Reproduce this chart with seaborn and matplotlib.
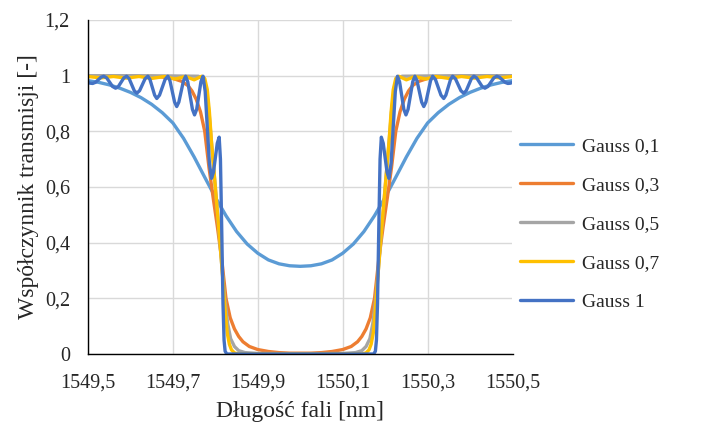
import matplotlib
matplotlib.use("Agg")
import matplotlib.pyplot as plt
import seaborn as sns
import pandas as pd

# ---------------- data ----------------
series_names = ["Gauss 0,1", "Gauss 0,3", "Gauss 0,5", "Gauss 0,7", "Gauss 1"]
series_colors = ["#5B9BD5", "#ED7D31", "#A5A5A5", "#FFC000", "#4472C4"]

g01_wl = [1549.500, 1549.525, 1549.550, 1549.575, 1549.600, 1549.625, 1549.650,
          1549.675, 1549.700, 1549.725, 1549.750, 1549.775, 1549.800, 1549.825,
          1549.850, 1549.875, 1549.900, 1549.925, 1549.950, 1549.975, 1550.000,
          1550.025, 1550.050, 1550.075, 1550.100, 1550.125, 1550.150, 1550.175,
          1550.200, 1550.225, 1550.250, 1550.275, 1550.300, 1550.325, 1550.350,
          1550.375, 1550.400, 1550.425, 1550.450, 1550.475, 1550.500]
g01_t = [0.982, 0.976, 0.967, 0.955, 0.940, 0.921, 0.897, 0.867, 0.830, 0.775,
         0.708, 0.635, 0.563, 0.497, 0.440, 0.395, 0.362, 0.338, 0.324, 0.317,
         0.315, 0.317, 0.324, 0.338, 0.362, 0.395, 0.440, 0.497, 0.563, 0.635,
         0.708, 0.775, 0.830, 0.867, 0.897, 0.921, 0.940, 0.955, 0.967, 0.976,
         0.982]

g03_wl = [1549.500, 1549.550, 1549.600, 1549.650, 1549.675, 1549.700, 1549.720,
          1549.735, 1549.745, 1549.755, 1549.765, 1549.775, 1549.785, 1549.795,
          1549.805, 1549.815, 1549.825, 1549.835, 1549.845, 1549.855, 1549.865,
          1549.880, 1549.900, 1549.925, 1549.950, 1549.975, 1550.000,
          1550.025, 1550.050, 1550.075, 1550.100, 1550.120, 1550.135, 1550.145,
          1550.155, 1550.165, 1550.175, 1550.185, 1550.195, 1550.205, 1550.215,
          1550.225, 1550.235, 1550.245, 1550.255, 1550.265, 1550.280, 1550.300,
          1550.325, 1550.350, 1550.400, 1550.450, 1550.500]
g03_t = [1.000, 1.000, 0.999, 0.997, 0.995, 0.990, 0.980, 0.965, 0.945, 0.915,
         0.870, 0.800, 0.670, 0.560, 0.455, 0.340, 0.200, 0.130, 0.090, 0.063,
         0.044, 0.027, 0.016, 0.009, 0.005, 0.003, 0.003,
         0.003, 0.005, 0.009, 0.016, 0.027, 0.044, 0.063, 0.090, 0.130, 0.200,
         0.340, 0.455, 0.560, 0.670, 0.800, 0.870, 0.915, 0.945, 0.965, 0.980,
         0.990, 0.995, 0.997, 0.999, 1.000, 1.000]

g05_wl = [1549.500, 1549.600, 1549.700, 1549.760, 1549.770, 1549.778, 1549.785,
          1549.792, 1549.800, 1549.808, 1549.815, 1549.822, 1549.829, 1549.836,
          1549.845, 1549.855, 1549.870, 1549.900, 1550.000,
          1550.100, 1550.130, 1550.145, 1550.155, 1550.164, 1550.171, 1550.178,
          1550.185, 1550.192, 1550.200, 1550.208, 1550.215, 1550.222, 1550.230,
          1550.240, 1550.300, 1550.400, 1550.500]
g05_t = [1.000, 1.000, 0.999, 0.998, 0.990, 0.960, 0.870, 0.740, 0.600, 0.450,
         0.320, 0.200, 0.110, 0.055, 0.027, 0.012, 0.005, 0.002, 0.001,
         0.002, 0.005, 0.012, 0.027, 0.055, 0.110, 0.200, 0.320, 0.450, 0.600,
         0.740, 0.870, 0.960, 0.990, 0.998, 0.999, 1.000, 1.000]

g07_wl = [1549.500, 1549.530, 1549.560, 1549.590, 1549.620, 1549.650, 1549.680,
          1549.705, 1549.730, 1549.750, 1549.768, 1549.775, 1549.781, 1549.786,
          1549.791, 1549.796, 1549.801, 1549.806, 1549.811, 1549.816, 1549.820,
          1549.824, 1549.828, 1549.833, 1549.838, 1549.845, 1549.855, 1550.000,
          1550.145, 1550.155, 1550.162, 1550.167, 1550.172, 1550.176, 1550.180,
          1550.184, 1550.189, 1550.194, 1550.199, 1550.204, 1550.209, 1550.214,
          1550.219, 1550.225, 1550.232, 1550.250, 1550.270, 1550.295, 1550.320,
          1550.350, 1550.380, 1550.410, 1550.440, 1550.470, 1550.500]
g07_t = [0.997, 0.992, 0.997, 0.991, 0.997, 0.990, 0.997, 0.988, 0.997, 0.985,
         0.998, 0.990, 0.950, 0.870, 0.760, 0.670, 0.580, 0.490, 0.400, 0.300,
         0.220, 0.140, 0.075, 0.035, 0.015, 0.004, 0.000, 0.000,
         0.000, 0.004, 0.015, 0.035, 0.075, 0.140, 0.220, 0.300, 0.400, 0.490,
         0.580, 0.670, 0.760, 0.870, 0.950, 0.990, 0.998, 0.985, 0.997, 0.988,
         0.997, 0.990, 0.997, 0.991, 0.997, 0.992, 0.997]

g1_wl = [1549.500, 1549.505, 1549.511, 1549.5175, 1549.524, 1549.5305, 1549.537,
         1549.544, 1549.551, 1549.558, 1549.565, 1549.5715, 1549.578, 1549.5845,
         1549.591, 1549.597, 1549.603, 1549.609, 1549.615, 1549.6215, 1549.628,
         1549.6345, 1549.641, 1549.646, 1549.6515, 1549.657, 1549.662, 1549.6685,
         1549.675, 1549.6815, 1549.688, 1549.693, 1549.6985, 1549.704, 1549.709,
         1549.714, 1549.7195, 1549.725, 1549.730, 1549.735, 1549.7405, 1549.746,
         1549.751, 1549.756, 1549.761, 1549.766, 1549.771, 1549.776, 1549.781,
         1549.786, 1549.791, 1549.7955, 1549.800, 1549.8045, 1549.809, 1549.812,
         1549.815, 1549.818, 1549.8205, 1549.823, 1549.827, 1550.000,
         1550.173, 1550.177, 1550.1795, 1550.182, 1550.185, 1550.188, 1550.191,
         1550.1955, 1550.200, 1550.2045, 1550.209, 1550.214, 1550.219, 1550.224,
         1550.229, 1550.234, 1550.239, 1550.244, 1550.249, 1550.254, 1550.2595,
         1550.265, 1550.270, 1550.275, 1550.2805, 1550.286, 1550.291, 1550.296,
         1550.3015, 1550.307, 1550.312, 1550.3185, 1550.325, 1550.3315, 1550.338,
         1550.343, 1550.3485, 1550.354, 1550.359, 1550.3655, 1550.372, 1550.3785,
         1550.385, 1550.391, 1550.397, 1550.403, 1550.409, 1550.4155, 1550.422,
         1550.4285, 1550.435, 1550.442, 1550.449, 1550.456, 1550.463, 1550.4695,
         1550.476, 1550.4825, 1550.489, 1550.495, 1550.500]
g1_t = [0.976, 0.973, 0.972, 0.976, 0.985, 0.994, 0.998,
        0.992, 0.9765, 0.961, 0.955, 0.961, 0.9765, 0.992,
        0.998, 0.989, 0.9675, 0.946, 0.937, 0.946, 0.9675,
        0.989, 0.998, 0.986, 0.958, 0.930, 0.918, 0.930,
        0.958, 0.986, 0.998, 0.982, 0.9435, 0.905, 0.889,
        0.905, 0.9435, 0.982, 0.998, 0.978, 0.9285, 0.879,
        0.859, 0.879, 0.9285, 0.978, 0.998, 0.944, 0.8145,
        0.685, 0.631, 0.653, 0.705, 0.757, 0.779, 0.700,
        0.450, 0.180, 0.050, 0.010, 0.000, 0.000,
        0.000, 0.010, 0.050, 0.180, 0.450, 0.700, 0.779,
        0.757, 0.705, 0.653, 0.631, 0.685, 0.8145, 0.944,
        0.998, 0.978, 0.9285, 0.879, 0.859, 0.879, 0.9285,
        0.978, 0.998, 0.982, 0.9435, 0.905, 0.889, 0.905,
        0.9435, 0.982, 0.998, 0.986, 0.958, 0.930, 0.918,
        0.930, 0.958, 0.986, 0.998, 0.989, 0.9675, 0.946,
        0.937, 0.946, 0.9675, 0.989, 0.998, 0.992, 0.9765,
        0.961, 0.955, 0.961, 0.9765, 0.992, 0.998, 0.994,
        0.985, 0.976, 0.972, 0.973, 0.976]

x_ticks = [1549.5, 1549.7, 1549.9, 1550.1, 1550.3, 1550.5]
x_tick_labels = ["1549,5", "1549,7", "1549,9", "1550,1", "1550,3", "1550,5"]
y_ticks = [0, 0.2, 0.4, 0.6, 0.8, 1.0, 1.2]
y_tick_labels = ["0", "0,2", "0,4", "0,6", "0,8", "1", "1,2"]

# ---------------- build long table ----------------
all_wl = [g01_wl, g03_wl, g05_wl, g07_wl, g1_wl]
all_t = [g01_t, g03_t, g05_t, g07_t, g1_t]
frames = []
for name, wl, t in zip(series_names, all_wl, all_t):
    frames.append(pd.DataFrame({"wl": wl, "T": t, "series": name}))
df = pd.concat(frames, ignore_index=True)

# ---------------- plot ----------------
sns.set_theme(style="white")
plt.rcParams['font.family'] = ['Liberation Serif', 'DejaVu Serif']

W, H = 721, 425
fig = plt.figure(figsize=(W / 100, H / 100), dpi=100)
ax = fig.add_axes([88 / W, (H - 354) / H, (512.5 - 88) / W, (354 - 20) / H])

for name, color in zip(series_names, series_colors):
    sub = df[df["series"] == name]
    sns.lineplot(data=sub, x="wl", y="T", color=color, linewidth=2.4,
                 estimator=None, sort=False, label=name, ax=ax,
                 solid_joinstyle="round", solid_capstyle="round")

ax.set_xlim(1549.5, 1550.5)
ax.set_ylim(0, 1.2)
ax.set_xticks(x_ticks)
ax.set_xticklabels(x_tick_labels, fontsize=14.5, color="#262626")
ax.set_yticks(y_ticks)
ax.set_yticklabels(y_tick_labels, fontsize=14.5, color="#262626")
ax.tick_params(axis="both", length=0)
ax.tick_params(axis="x", pad=14)
ax.tick_params(axis="y", pad=13)

ax.grid(True, color="#D9D9D9", linewidth=1.0)
ax.set_axisbelow(True)
for s in ["top", "right"]:
    ax.spines[s].set_visible(False)
for s in ["left", "bottom"]:
    ax.spines[s].set_color("black")
    ax.spines[s].set_linewidth(1.0)

ax.set_xlabel("Długość fali [nm]", fontsize=17, color="#262626", labelpad=6)
ax.set_ylabel("Współczynnik transmisji [-]", fontsize=17, color="#262626", labelpad=4)

ax.get_legend().remove()
handles, labels = ax.get_legend_handles_labels()
fig.legend(handles, labels, loc="center left", bbox_to_anchor=(520 / W, (H - 224) / H),
           frameon=False, fontsize=14, handlelength=2.7, handletextpad=0.5,
           labelspacing=1.1, borderpad=0, borderaxespad=0)

fig.savefig("out.png", dpi=100)
